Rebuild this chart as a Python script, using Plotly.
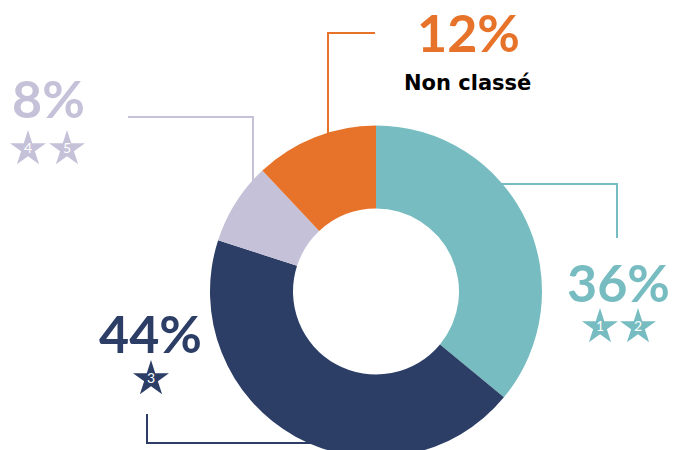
import plotly.graph_objects as go

# data
categories = ["1-2 étoiles", "3 étoiles", "4-5 étoiles", "Non classé"]
shares = [36, 44, 8, 12]
colors = ["#76BCC0", "#2C3E66", "#C4C1D8", "#E67329"]
star_labels = [["1", "2"], ["3"], ["4", "5"], []]
subtitle = "Non classé"

W, H = 681, 450
# the page puts the figure 8px in from the top-left corner
OFF = 8

# layout positions in page pixels (x right, y down)
pct_pos = [(618, 282), (150, 333), (48, 98), (468, 32)]
star_pos = [[(600, 327), (638, 327)], [(151, 379)], [(28, 149), (67, 149)], []]
leaders = [
    [(498, 184), (617, 184), (617, 238)],
    [(147, 414), (147, 443), (312, 443)],
    [(128, 117), (253, 117), (253, 186)],
    [(375, 33), (328, 33), (328, 140)],
]
donut_left, donut_right, donut_top = 210, 542, 125


def fx(x):
    return x - OFF


def fy(y):
    return y - OFF


fig = go.Figure()

fig.add_trace(
    go.Pie(
        labels=categories,
        values=shares,
        hole=0.5,
        sort=False,
        direction="clockwise",
        rotation=0,
        textinfo="none",
        hoverinfo="label+percent",
        marker=dict(colors=colors, line=dict(width=0)),
        domain=dict(
            x=[fx(donut_left) / W, fx(donut_right) / W],
            y=[0, 1 - fy(donut_top) / H],
        ),
        showlegend=False,
    )
)

# stars with their numbers
for i, nums in enumerate(star_labels):
    if not nums:
        continue
    fig.add_trace(
        go.Scatter(
            x=[fx(p[0]) for p in star_pos[i]],
            y=[fy(p[1]) for p in star_pos[i]],
            mode="markers+text",
            text=nums,
            textposition="middle center",
            textfont=dict(family="Lato", size=14, color="white"),
            marker=dict(symbol="star", size=27, color=colors[i], line=dict(width=0)),
            hoverinfo="skip",
            showlegend=False,
        )
    )

shapes = []
for i, pts in enumerate(leaders):
    path = "M " + " L ".join(f"{fx(x)},{fy(y)}" for x, y in pts)
    shapes.append(
        dict(type="path", path=path, xref="x", yref="y", layer="below",
             line=dict(color=colors[i], width=2))
    )

annotations = []
for i, v in enumerate(shares):
    x, y = pct_pos[i]
    annotations.append(
        dict(x=fx(x), y=fy(y), xref="x", yref="y", text=f"{v}%", showarrow=False,
             xanchor="center", yanchor="middle",
             font=dict(family="Lato", size=52, color=colors[i], weight=700))
    )
annotations.append(
    dict(x=fx(467), y=fy(83), xref="x", yref="y", text=subtitle, showarrow=False,
         xanchor="center", yanchor="middle",
         font=dict(family="DejaVu Sans", size=21, color="black", weight=700))
)

fig.update_layout(
    width=W,
    height=H,
    margin=dict(l=0, r=0, t=0, b=0),
    paper_bgcolor="white",
    plot_bgcolor="white",
    xaxis=dict(range=[0, W], visible=False, fixedrange=True),
    yaxis=dict(range=[H, 0], visible=False, fixedrange=True),
    shapes=shapes,
    annotations=annotations,
)

fig.write_html("out.html")
